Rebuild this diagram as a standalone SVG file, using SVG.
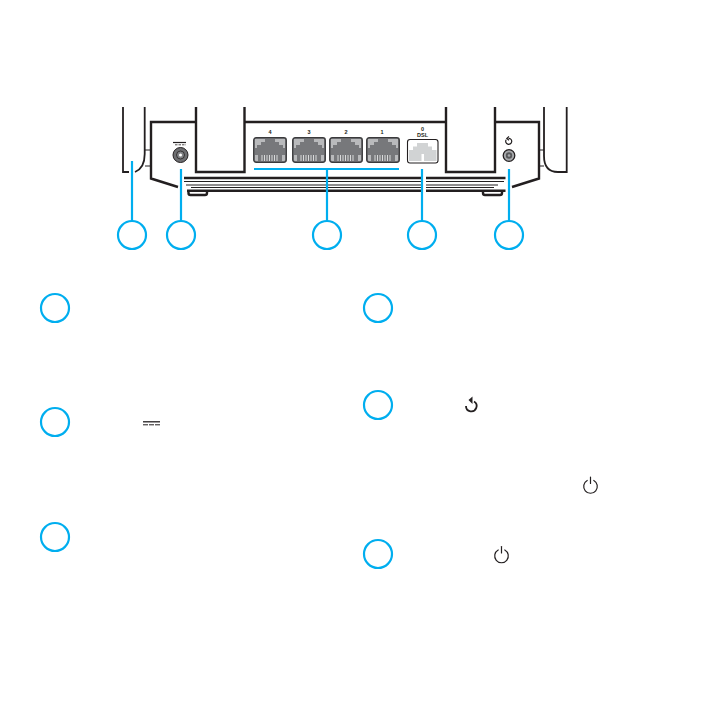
<svg xmlns="http://www.w3.org/2000/svg" width="709" height="709" viewBox="0 0 709 709">
<style>
.k{fill:none;stroke:#231f20;stroke-width:2.400;stroke-linejoin:miter}
.a{fill:none;stroke:#231f20;stroke-width:1.800}
.t{fill:none;stroke:#231f20;stroke-width:1.200}
.b{fill:none;stroke:#00aeef;stroke-width:2.200}
.c{fill:#fff;stroke:#00aeef;stroke-width:2.200}
.i{fill:none;stroke:#231f20;stroke-width:1.200;stroke-linecap:round}
.l{font-family:"Liberation Sans",Arial,sans-serif;font-weight:700;font-size:5.500px;fill:#231f20;text-anchor:middle}
.pb{fill:#77787b;stroke:#3a3a3c;stroke-width:1.300}
.pc{fill:#b9babc}
</style>
<defs>
<g id="port">
<rect class="pb" x="0.700" y="0.700" width="32.600" height="24.600" rx="2.500"/>
<path class="pc" d="M2 2H12V5H8V8H4V11H2ZM32 2H22V5H26V8H30V11H32ZM2 18H5V24H3Q2 24 2 23ZM32 18H29V24H31Q32 24 32 23Z"/>
<path d="M9 18V24M11.500 18V24M14 18V24M16.500 18V24M19 18V24M21.500 18V24M24 18V24" stroke="#d8d9da" stroke-width="1" fill="none"/>
</g>
<g id="power">
<path class="i" d="M-3.300 -4.500A6.800 6.800 0 1 0 3.300 -4.500"/>
<path class="i" d="M0 -8V-1.500"/>
</g>
</defs>
<g id="router">
<path class="a" d="M123 107V172H129"/>
<path class="a" d="M144.700 107V154Q144.700 168 135 172"/>
<path class="t" d="M145 150H151M145 166H151"/>
<path class="k" d="M196 122H151V178.500L178 187"/>
<path class="k" d="M245 122H446"/>
<path class="k" d="M196 107V172H244.500V107"/>
<path class="k" d="M446 107V172H495V107"/>
<path class="k" d="M495 122H539V178.500L512 187"/>
<path class="a" d="M544 107V156Q544 172 558 172H566.700V107"/>
<path class="t" d="M539 150H544M539 166H544"/>
<path d="M184 178H505.500" stroke="#231f20" stroke-width="2.500" fill="none"/>
<path d="M184 181.500H504M186 185H498M191 187.500H494" stroke="#231f20" stroke-width="1.100" fill="none"/>
<path d="M187 190.700H505.500" stroke="#231f20" stroke-width="2.500" fill="none"/>
<path class="k" d="M188.500 191V193Q188.500 195 190.500 195H205Q207 195 207 193V191"/>
<path class="k" d="M483 191V193Q483 195 485 195H500Q502 195 502 193V191"/>
<path d="M173 142.500H186" stroke="#231f20" stroke-width="1.200"/>
<path d="M175 144.800H186" stroke="#231f20" stroke-width="0.800" stroke-dasharray="2.500 1"/>
<circle cx="180.500" cy="155" r="7.500" fill="#6d6e71" stroke="#231f20" stroke-width="1"/>
<circle cx="180.500" cy="155" r="4" fill="#808285" stroke="#231f20" stroke-width="0.800"/>
<circle cx="180.500" cy="155" r="1.500" fill="#fff"/>
<text class="l" x="270" y="133.500">4</text>
<text class="l" x="309" y="133.500">3</text>
<text class="l" x="346" y="133.500">2</text>
<text class="l" x="382" y="133.500">1</text>
<text class="l" x="422.500" y="130.500">0</text>
<text class="l" x="422.500" y="136.500">DSL</text>
<use href="#port" x="253" y="137"/>
<use href="#port" x="292" y="137"/>
<use href="#port" x="329" y="137"/>
<use href="#port" x="366" y="137"/>
<rect x="407.500" y="139.500" width="30.500" height="23.500" rx="2.500" fill="#fff" stroke="#231f20" stroke-width="1.100"/>
<path d="M409 161V150H413V146.500H417V143H428V146.500H432V150H436.500V161H424V154H421.500V161Z" fill="#d1d3d4"/>
<path d="M506 140A3 3 0 1 0 509 138.300" class="i"/>
<path d="M509 136.500L506.800 138.400L509 140.300" class="t"/>
<circle cx="509" cy="155.500" r="5.800" fill="#a7a9ac" stroke="#231f20" stroke-width="1.300"/>
<circle cx="509" cy="155.500" r="3.200" fill="#58595b"/>
<circle cx="509" cy="155.500" r="1.300" fill="#a7a9ac"/>
<path d="M424 176V194" stroke="#fff" stroke-width="4" fill="none"/>
</g>
<g id="connectors">
<path class="b" d="M132 161V221M181 169V221M254 169H399M327 169V221M422 169V221M509 169V221"/>
</g>
<g id="node-top-1"><circle class="c" cx="132" cy="235" r="14"/></g>
<g id="node-top-2"><circle class="c" cx="181" cy="235" r="14"/></g>
<g id="node-top-3"><circle class="c" cx="327" cy="235" r="14"/></g>
<g id="node-top-4"><circle class="c" cx="422" cy="235" r="14"/></g>
<g id="node-top-5"><circle class="c" cx="509" cy="235" r="14"/></g>
<g id="node-left-1"><circle class="c" cx="55" cy="308" r="14"/></g>
<g id="node-left-2"><circle class="c" cx="55" cy="422" r="14"/></g>
<g id="node-left-3"><circle class="c" cx="55" cy="537" r="14"/></g>
<g id="node-right-1"><circle class="c" cx="378" cy="308" r="14"/></g>
<g id="node-right-2"><circle class="c" cx="378" cy="405" r="14"/></g>
<g id="node-right-3"><circle class="c" cx="378" cy="554" r="14"/></g>
<g id="icons">
<path d="M143 421.800H160" stroke="#231f20" stroke-width="1.300"/>
<path d="M143 424.800H160" stroke="#231f20" stroke-width="1" stroke-dasharray="5 1"/>
<path d="M474 401.500A5.300 5.300 0 1 1 466 406" fill="none" stroke="#231f20" stroke-width="1.800"/>
<path d="M472.500 396.500L468.500 400L472.500 404Z" fill="#231f20"/>
<use href="#power" x="590.500" y="485"/>
<use href="#power" x="501.500" y="554.500"/>
</g>
</svg>
